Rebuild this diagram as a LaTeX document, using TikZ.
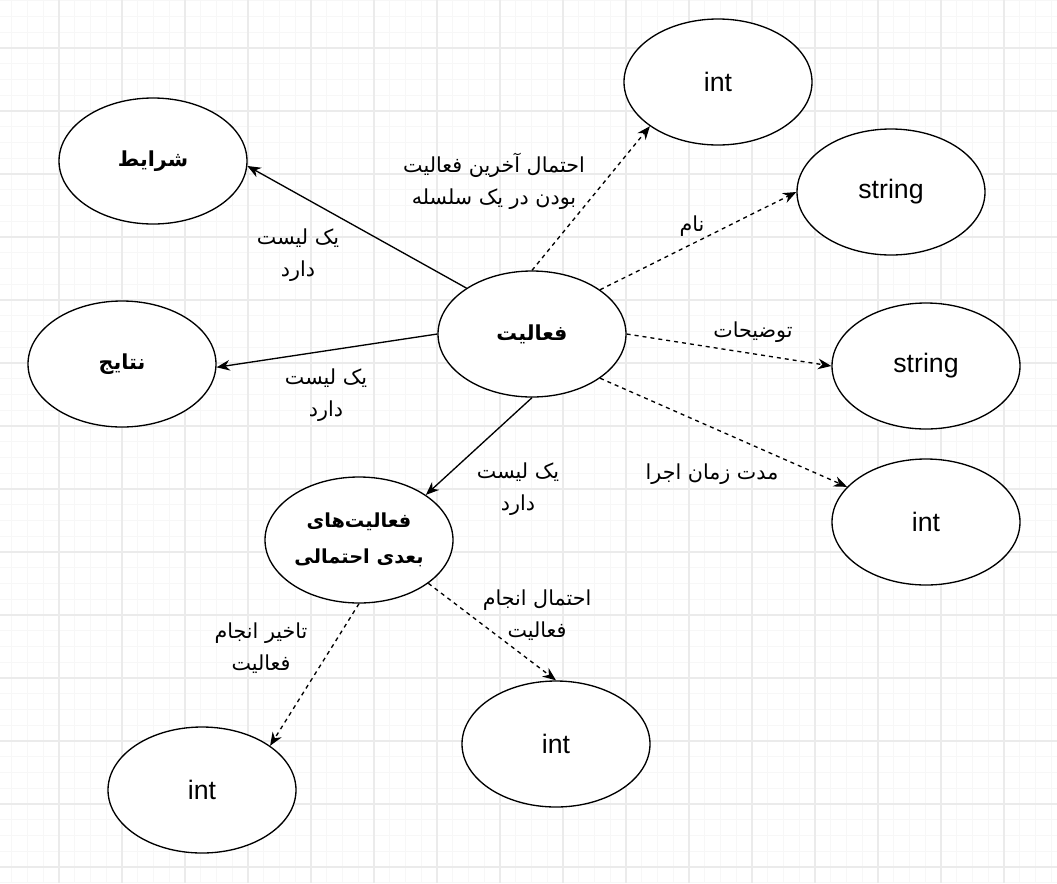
\documentclass[tikz,border=0pt]{standalone}
\usepackage{fontspec}
\setmainfont{Liberation Sans}
\newfontfamily\farsi[Script=Arabic]{DejaVu Sans}
\TeXXeTstate=1
\newcommand{\fa}[1]{{\farsi\beginR #1\endR}}
\usetikzlibrary{shapes.geometric,arrows.meta}

\begin{document}
\begin{tikzpicture}[x=0.75pt,y=-0.75pt,>={Stealth[length=10pt,width=8pt]},
            main node/.style={ellipse,draw,line width=1pt,fill=white,inner sep=0pt,
              minimum width=141pt,minimum height=94.5pt,font=\fontsize{20}{24}\selectfont},
            fa node/.style={main node,font=\farsi\bfseries\fontsize{15.5}{27}\selectfont,align=center},
            edge text/.style={font=\farsi\fontsize{15.5}{24}\selectfont,align=center},
            has/.style={->,line width=1pt},
            attr/.style={->,line width=1pt,dash pattern=on 3pt off 3pt}]

        % Background grid
        \useasboundingbox (0,0) rectangle (1057,883);
        \fill[white] (0,0) rectangle (1057,883);
        \foreach \x in {-4,11.75,...,1060} \draw[gray!6,line width=0.9pt] (\x,0) -- (\x,883);
        \foreach \y in {0.75,16.5,...,885} \draw[gray!6,line width=0.9pt] (0,\y) -- (1057,\y);
        \foreach \x in {-4,59,...,1060} \draw[gray!16,line width=0.8pt] (\x,0) -- (\x,883);
        \foreach \y in {-15,48,...,885} \draw[gray!16,line width=0.8pt] (0,\y) -- (1057,\y);

        % Define vertices
        \node[fa node] (act) at (532,334) {\fa{فعالیت}};
        \node[fa node] (cond) at (153,161) {\fa{شرایط}};
        \node[fa node] (res) at (122,364) {\fa{نتایج}};
        \node[fa node,font=\farsi\bfseries\fontsize{14.5}{27}\selectfont] (next) at (359,540) {\fa{فعالیت‌های}\\\fa{بعدی احتمالی}};
        \node[main node] (lastp) at (718,82) {int};
        \node[main node] (name) at (891,192) {string};
        \node[main node] (desc) at (926,366) {string};
        \node[main node] (dur) at (926,522) {int};
        \node[main node] (delay) at (202,790) {int};
        \node[main node] (prob) at (556,744) {int};

        % Edge texts
        \node[edge text] (t1) at (494,181) {\fa{احتمال آخرین فعالیت}\\\fa{بودن در یک سلسله}};
        \node[edge text] (t2) at (298,255) {\fa{یک لیست}\\\fa{دارد}};
        \node[edge text] (t3) at (326,395) {\fa{یک لیست}\\\fa{دارد}};
        \node[edge text] (t4) at (518,489) {\fa{یک لیست}\\\fa{دارد}};
        \node[edge text] (t5) at (692,226) {\fa{نام}};
        \node[edge text] (t6) at (753,332) {\fa{توضیحات}};
        \node[edge text] (t7) at (712,474) {\fa{مدت زمان اجرا}};
        \node[edge text] (t8) at (261,648) {\fa{تاخیر انجام}\\\fa{فعالیت}};
        \node[edge text] (t9) at (537,615) {\fa{احتمال انجام}\\\fa{فعالیت}};

        % Draw edges
        \path[has]
            (act.145) edge (cond.-3)
            (act.180) edge (res.-2)
            (act.270) edge (next.34);
        \path[attr]
            (act.90) edge (lastp.-147)
            (act.33) edge (name.180)
            (act.0) edge (desc.180)
            (act.-33) edge (dur.156)
            (next.270) edge (delay.33)
            (next.-32) edge (prob.90);

\end{tikzpicture}
\end{document}
